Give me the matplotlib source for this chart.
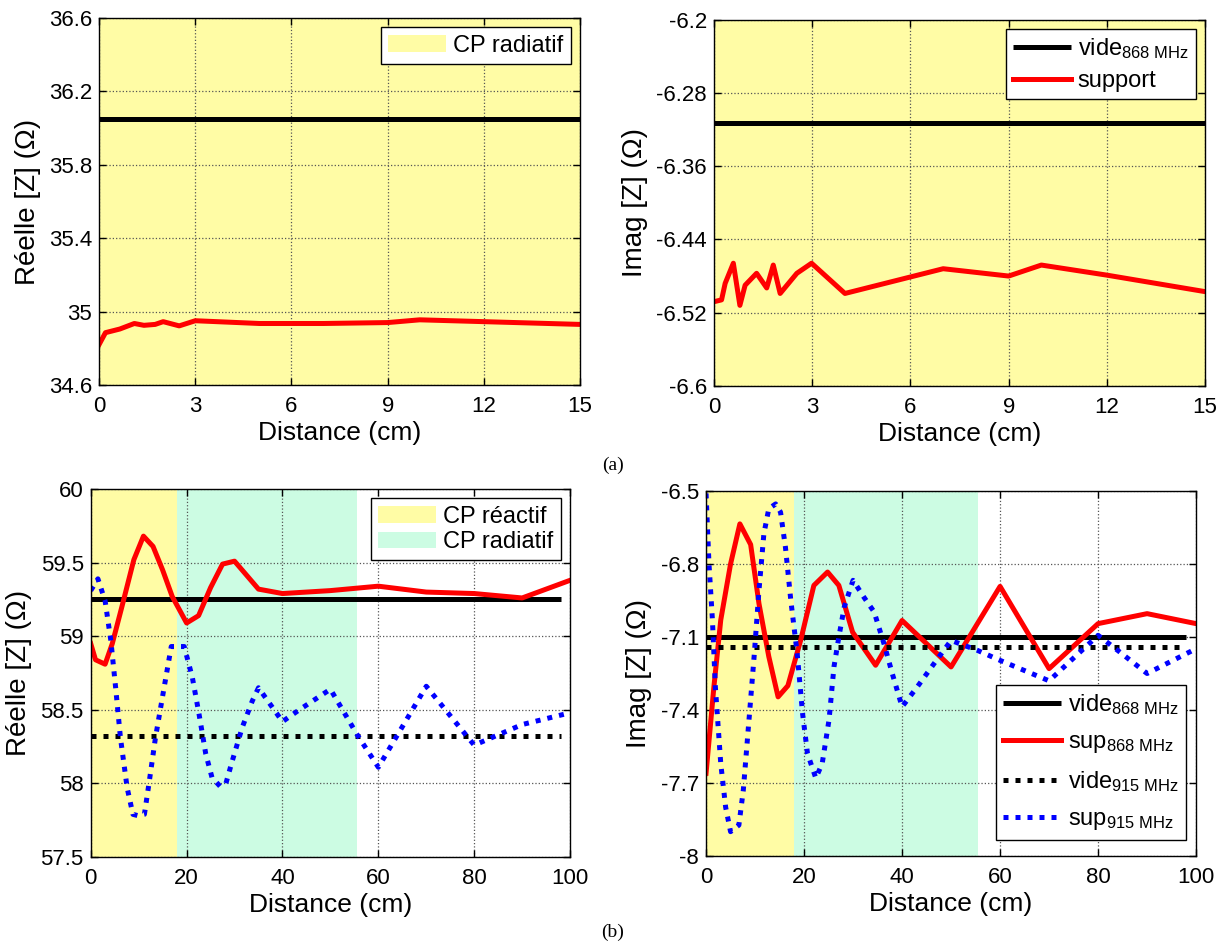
import matplotlib
matplotlib.use('Agg')
import matplotlib.pyplot as plt
from matplotlib.ticker import FuncFormatter

plt.rcParams['font.family'] = ['Liberation Sans', 'DejaVu Sans']
plt.rcParams['mathtext.fontset'] = 'custom'
plt.rcParams['mathtext.rm'] = 'Liberation Sans'
plt.rcParams['mathtext.it'] = 'Liberation Sans:italic'

# (a) 0 - 15 cm
a_vide_re = 36.05
a_vide_im = -6.313
a_re_x = [0, 0.2, 0.65, 1.1, 1.4, 1.75, 2.0, 2.5, 3, 5, 7, 9, 10, 15]
a_re_y = [34.82, 34.885, 34.905, 34.935, 34.925, 34.93, 34.945, 34.922, 34.95,
          34.935, 34.935, 34.94, 34.955, 34.93]
a_im_x = [0, 0.23, 0.34, 0.59, 0.79, 0.95, 1.3, 1.61, 1.81, 2.02, 2.53, 2.98,
          4, 5, 7, 9, 10, 12, 15]
a_im_y = [-6.508, -6.506, -6.488, -6.466, -6.512, -6.49, -6.477, -6.493, -6.468,
          -6.499, -6.477, -6.466, -6.499, -6.490, -6.472, -6.48, -6.468, -6.479,
          -6.497]

# (b) 0 - 100 cm
b_vide_x = [0, 98]
reactif_zone = (0, 18)
radiatif_zone = (18, 55.5)

b_vide868_re = 59.25
b_vide915_re = 58.32
b_sup868_re_x = [0, 1, 3, 4.5, 6.5, 9, 11, 13, 15, 17, 20, 22.5, 25, 27.5, 30,
                 35, 40, 50, 60, 70, 80, 90, 100]
b_sup868_re_y = [58.95, 58.84, 58.81, 58.95, 59.2, 59.52, 59.68, 59.61, 59.45,
                 59.27, 59.09, 59.14, 59.33, 59.49, 59.51, 59.32, 59.29, 59.31,
                 59.34, 59.30, 59.29, 59.26, 59.38]
b_sup915_re_x = [0, 1.5, 3, 4.2, 5.2, 6.2, 7.6, 8.8, 10, 11.2, 12.2, 13.5, 15.3,
                 16.8, 19.5, 21.2, 22.6, 24, 25.3, 27, 28.2, 29.5, 31.6, 33.7,
                 35, 40, 43.5, 50, 55.6, 60, 70, 80, 90, 100]
b_sup915_re_y = [59.31, 59.39, 59.24, 58.97, 58.65, 58.31, 57.97, 57.79, 57.78,
                 57.79, 58.01, 58.31, 58.65, 58.93, 58.93, 58.72, 58.47, 58.20,
                 58.04, 57.98, 58.00, 58.15, 58.38, 58.56, 58.65, 58.42, 58.50,
                 58.64, 58.33, 58.11, 58.66, 58.26, 58.40, 58.48]

b_vide868_im = -7.10
b_vide915_im = -7.14
b_sup868_im_x = [0, 1.6, 3, 5, 6.9, 9.1, 10.8, 12.8, 14.7, 16.7, 19.3, 22, 24.8,
                 27.1, 29.9, 34.6, 40, 50, 60, 70, 80, 90, 100]
b_sup868_im_y = [-7.66, -7.305, -7.03, -6.80, -6.635, -6.72, -6.963, -7.18,
                 -7.346, -7.30, -7.114, -6.888, -6.833, -6.888, -7.08, -7.216,
                 -7.032, -7.223, -6.892, -7.23, -7.045, -7.004, -7.045]
b_sup915_im_x = [0, 0.6, 1.3, 1.9, 3, 4, 5, 6.7, 7.6, 8.7, 9.8, 10.8, 11.8, 12.8,
                 14.2, 15.2, 16.2, 17.3, 18.6, 19.7, 20.7, 22.4, 23.7, 25.1, 26.1,
                 27.1, 28.2, 30, 32.2, 34.3, 36.3, 38, 40, 43.1, 46.5, 50, 55.4,
                 60, 70, 80, 84, 90, 100]
b_sup915_im_y = [-6.51, -6.80, -7.03, -7.305, -7.62, -7.80, -7.90, -7.873, -7.73,
                 -7.456, -7.182, -6.908, -6.676, -6.573, -6.553, -6.587, -6.731,
                 -6.95, -7.168, -7.415, -7.579, -7.68, -7.62, -7.44, -7.223, -7.10,
                 -6.977, -6.867, -6.936, -6.997, -7.127, -7.25, -7.387, -7.305,
                 -7.21, -7.114, -7.155, -7.196, -7.28, -7.093, -7.155, -7.25,
                 -7.148]

YELLOW = '#FFFCA5'
CYAN = '#CCFCE3'
LW = 3.6
DOT = (0, (1, 1.4))

fig = plt.figure(figsize=(12.26, 9.47), dpi=100)
ax_a1 = fig.add_axes([0.0808, 0.5935, 0.3923, 0.3875])
ax_a2 = fig.add_axes([0.5824, 0.5924, 0.4005, 0.387])
ax_b1 = fig.add_axes([0.0740, 0.0950, 0.3910, 0.3886])
ax_b2 = fig.add_axes([0.5759, 0.0961, 0.3997, 0.3854])

fmt = FuncFormatter(lambda v, p: f'{v:g}')


def style(ax, xticks, yticks, ylabel):
    ax.set_xlim(xticks[0], xticks[-1])
    ax.set_ylim(yticks[0], yticks[-1])
    ax.set_xticks(xticks)
    ax.set_yticks(yticks)
    ax.xaxis.set_major_formatter(fmt)
    ax.yaxis.set_major_formatter(fmt)
    ax.grid(True, color='#555555', linestyle=':', linewidth=0.9)
    ax.tick_params(direction='in', top=True, right=True, length=5, width=1,
                   labelsize=16, pad=5)
    ax.tick_params(axis='x', pad=8)
    for s in ax.spines.values():
        s.set_linewidth(1)
    ax.set_xlabel('Distance (cm)', fontsize=19, labelpad=3)
    ax.set_ylabel(ylabel, fontsize=20, labelpad=6)


def legend(ax, **kw):
    kw.setdefault('borderaxespad', 0.4)
    leg = ax.legend(fancybox=False, framealpha=1, edgecolor='black',
                    fontsize=17, handlelength=2.45, borderpad=0.3,
                    handletextpad=0.3, **kw)
    leg.get_frame().set_linewidth(1)
    return leg


# (a) left
ax_a1.axvspan(0, 15, color=YELLOW, lw=0, label='CP radiatif')
ax_a1.plot([0, 15], [a_vide_re, a_vide_re], color='black', lw=LW, solid_capstyle='butt')
ax_a1.plot(a_re_x, a_re_y, color='red', lw=LW)
style(ax_a1, [0, 3, 6, 9, 12, 15], [34.6, 35, 35.4, 35.8, 36.2, 36.6], 'Réelle [Z] (Ω)')
h, l = ax_a1.get_legend_handles_labels()
legend(ax_a1, handles=h[:1], labels=l[:1], loc='upper right')

# (a) right
ax_a2.axvspan(0, 15, color=YELLOW, lw=0)
ax_a2.plot([0, 15], [a_vide_im, a_vide_im], color='black', lw=LW,
           solid_capstyle='butt', label=r'vide$_{\mathrm{868\ MHz}}$')
ax_a2.plot(a_im_x, a_im_y, color='red', lw=LW, label='support')
style(ax_a2, [0, 3, 6, 9, 12, 15], [-6.6, -6.52, -6.44, -6.36, -6.28, -6.2], 'Imag [Z] (Ω)')
legend(ax_a2, loc='upper right', labelspacing=0.4)

# (b) left
ax_b1.axvspan(*reactif_zone, color=YELLOW, lw=0, label='CP réactif')
ax_b1.axvspan(*radiatif_zone, color=CYAN, lw=0, label='CP radiatif')
ax_b1.plot(b_vide_x, [b_vide868_re] * 2, color='black', lw=LW, solid_capstyle='butt')
ax_b1.plot(b_sup868_re_x, b_sup868_re_y, color='red', lw=LW)
ax_b1.plot(b_vide_x, [b_vide915_re] * 2, color='black', lw=LW, linestyle=DOT)
ax_b1.plot(b_sup915_re_x, b_sup915_re_y, color='blue', lw=LW, linestyle=DOT)
style(ax_b1, [0, 20, 40, 60, 80, 100], [57.5, 58, 58.5, 59, 59.5, 60], 'Réelle [Z] (Ω)')
h, l = ax_b1.get_legend_handles_labels()
legend(ax_b1, handles=h[:2], labels=l[:2], loc='upper right', labelspacing=0.15)

# (b) right
ax_b2.axvspan(*reactif_zone, color=YELLOW, lw=0)
ax_b2.axvspan(*radiatif_zone, color=CYAN, lw=0)
ax_b2.plot(b_vide_x, [b_vide868_im] * 2, color='black', lw=LW,
           solid_capstyle='butt', label=r'vide$_{\mathrm{868\ MHz}}$')
ax_b2.plot(b_sup868_im_x, b_sup868_im_y, color='red', lw=LW,
           label=r'sup$_{\mathrm{868\ MHz}}$')
ax_b2.plot(b_vide_x, [b_vide915_im] * 2, color='black', lw=LW, linestyle=DOT,
           label=r'vide$_{\mathrm{915\ MHz}}$')
ax_b2.plot(b_sup915_im_x, b_sup915_im_y, color='blue', lw=LW, linestyle=DOT,
           label=r'sup$_{\mathrm{915\ MHz}}$')
style(ax_b2, [0, 20, 40, 60, 80, 100], [-8, -7.7, -7.4, -7.1, -6.8, -6.5], 'Imag [Z] (Ω)')
legend(ax_b2, loc='lower right', bbox_to_anchor=(0.98, 0.045), borderaxespad=0,
       labelspacing=0.6)

fig.text(0.5, 1 - 465 / 947, '(a)', ha='center', va='center',
         family='Liberation Serif', fontsize=14)
fig.text(0.5, 1 - 932 / 947, '(b)', ha='center', va='center',
         family='Liberation Serif', fontsize=14)

fig.savefig('out.png', dpi=100)
